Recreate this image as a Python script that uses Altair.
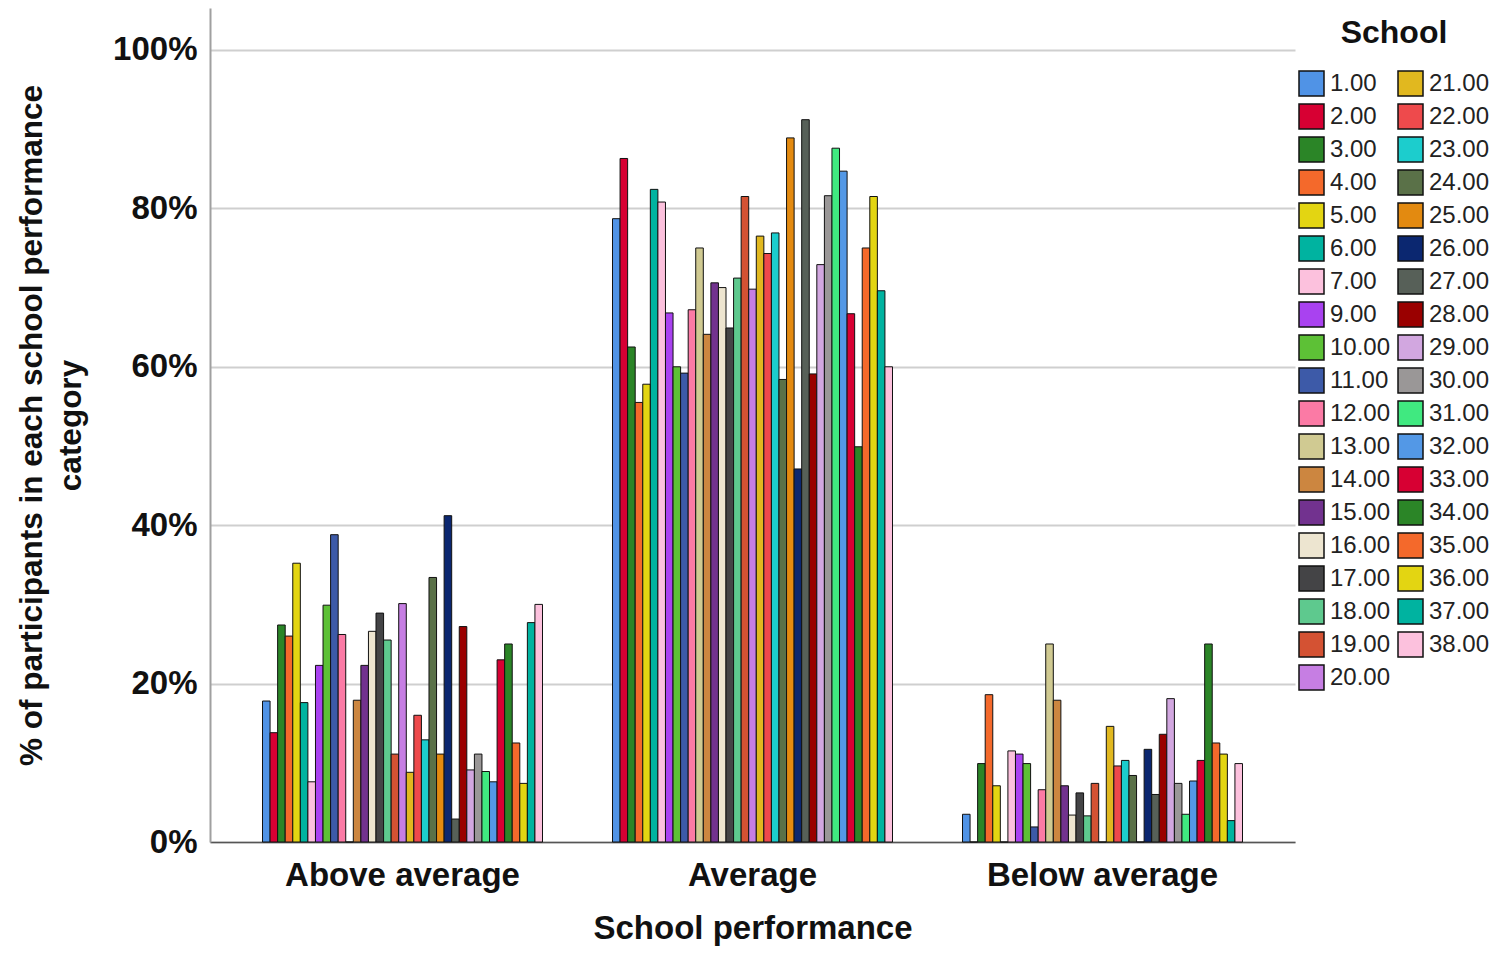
import altair as alt
import pandas as pd

schools = [1, 2, 3, 4, 5, 6, 7, 9, 10, 11, 12, 13, 14, 15, 16, 17, 18, 19, 20,
           21, 22, 23, 24, 25, 26, 27, 28, 29, 30, 31, 32, 33, 34, 35, 36, 37, 38]

above = [17.8, 13.8, 27.4, 26.0, 35.2, 17.6, 7.6, 22.3, 29.9, 38.8, 26.2, 0.0, 17.9,
         22.3, 26.6, 28.9, 25.5, 11.1, 30.1, 8.8, 16.0, 12.9, 33.4, 11.1, 41.2, 2.9,
         27.2, 9.1, 11.1, 8.9, 7.6, 23.0, 25.0, 12.5, 7.4, 27.7, 30.0]
average = [78.7, 86.3, 62.5, 55.5, 57.8, 82.4, 80.8, 66.8, 60.0, 59.2, 67.2, 75.0, 64.1,
           70.6, 70.0, 64.9, 71.2, 81.5, 69.8, 76.5, 74.3, 76.9, 58.4, 88.9, 47.1, 91.2,
           59.1, 72.9, 81.6, 87.6, 84.7, 66.7, 49.9, 75.0, 81.5, 69.6, 60.0]
below = [3.5, 0.0, 9.9, 18.6, 7.1, 0.0, 11.5, 11.1, 9.9, 1.9, 6.6, 25.0, 17.9,
         7.1, 3.4, 6.2, 3.3, 7.4, 0.0, 14.6, 9.6, 10.3, 8.4, 0.0, 11.7, 6.0,
         13.6, 18.1, 7.4, 3.5, 7.7, 10.3, 25.0, 12.5, 11.1, 2.7, 9.9]

colors = ["#5093e6", "#d70033", "#2b8527", "#f4692b", "#e3d512", "#00b3a0", "#fcc1dd",
          "#a942f0", "#5dc136", "#3d5aa8", "#fb7aa5", "#d0ca92", "#cc8640", "#72328f",
          "#ede5d0", "#444446", "#5ec98e", "#d45233", "#c67ee3", "#e1b81f", "#ee4a4c",
          "#1ccdcd", "#5a7148", "#e38a10", "#0b2770", "#576058", "#9a0000", "#d2a7e0",
          "#9a9797", "#40e980", "#5398e6", "#d70033", "#2b8527", "#f4692b", "#e3d512",
          "#00b3a0", "#fcc1dd"]

perfs = ["Above average", "Average", "Below average"]
labels = [f"{s:.2f}" for s in schools]

rows = []
for p, vals in zip(perfs, [above, average, below]):
    for lab, v in zip(labels, vals):
        rows.append({"perf": p, "school": lab, "pct": v})
df = pd.DataFrame(rows)

FONT = "Liberation Sans"

chart = alt.Chart(df).mark_bar(stroke="#111111", strokeWidth=1).encode(
    x=alt.X("perf:N", sort=perfs,
            scale=alt.Scale(paddingInner=0.2, paddingOuter=0.15),
            axis=alt.Axis(title="School performance", labelAngle=0, labelLimit=500,
                          labelFont=FONT, labelFontWeight="bold", labelFontSize=33,
                          labelColor="#111111", labelPadding=17,
                          titleFont=FONT, titleFontWeight="bold", titleFontSize=33,
                          titleColor="#111111", titlePadding=20,
                          ticks=False, domainColor="#555555", domainWidth=1.5)),
    xOffset=alt.XOffset("school:N", sort=labels,
                        scale=alt.Scale(paddingInner=0.0, paddingOuter=0.0)),
    y=alt.Y("pct:Q", scale=alt.Scale(domain=[0, 105.3], nice=False),
            axis=alt.Axis(title=["% of participants in each school performance", "category"],
                          values=[0, 20, 40, 60, 80, 100],
                          labelExpr="datum.value + '%'",
                          labelFont=FONT, labelFontWeight="bold", labelFontSize=33,
                          labelColor="#111111", labelPadding=13,
                          titleFont=FONT, titleFontWeight="bold", titleFontSize=31.5,
                          titleColor="#111111", titlePadding=25, titleLineHeight=39,
                          ticks=False, domainColor="#a0a0a0", domainWidth=2,
                          grid=True, gridColor="#cfcfcf", gridWidth=2)),
    color=alt.Color("school:N",
                    scale=alt.Scale(domain=labels, range=colors),
                    legend=alt.Legend(title="School", orient="none",
                                      legendX=1088, legendY=10, columns=2,
                                      symbolLimit=0,
                                      symbolType="square", symbolSize=625,
                                      symbolStrokeColor="#111111", symbolStrokeWidth=1.5,
                                      symbolOpacity=1,
                                      labelFont=FONT, labelFontSize=24, labelColor="#222222",
                                      labelOffset=5, labelLimit=200,
                                      titleFont=FONT, titleFontWeight="bold", titleFontSize=32,
                                      titleColor="#111111", titleAnchor="middle",
                                      titlePadding=20, rowPadding=2, columnPadding=4,
                                      padding=0)),
).properties(
    width=1085, height=834,
    autosize=alt.AutoSizeParams(type="none"),
    padding={"left": 202, "top": 0, "right": 196, "bottom": 104},
).configure_view(stroke=None)

chart.save("out.html", embed_options={"renderer": "svg", "actions": False})
